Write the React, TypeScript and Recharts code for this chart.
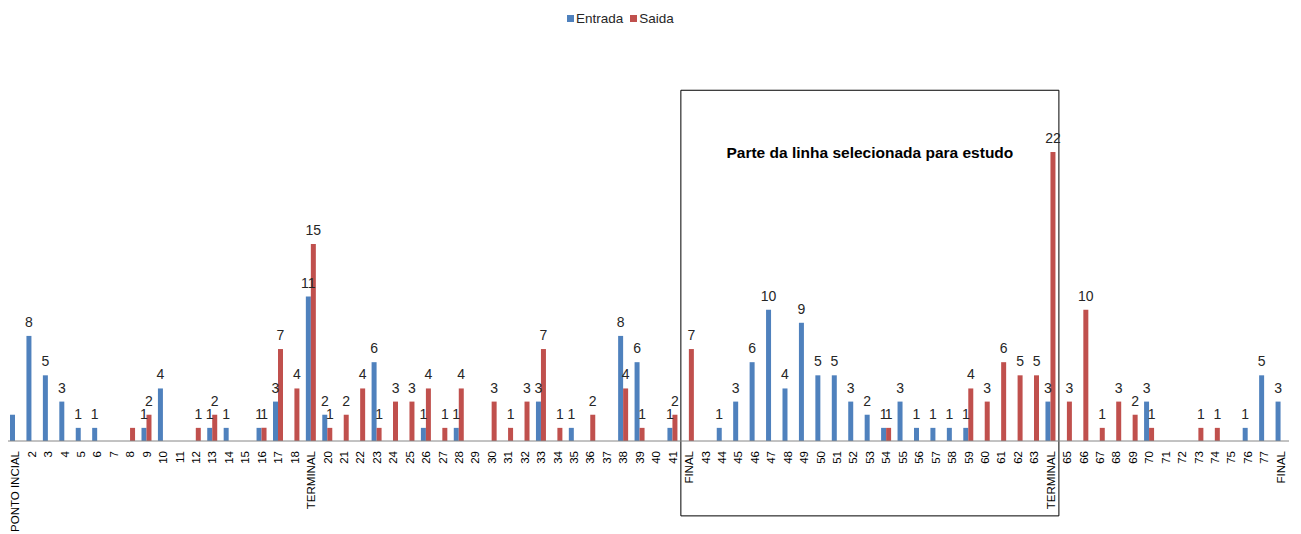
import { BarChart, Bar, XAxis, YAxis, LabelList, ReferenceArea } from 'recharts';

const stops = [
  'PONTO INCIAL', '2', '3', '4', '5', '6', '7', '8', '9', '10', '11', '12', '13', '14', '15', '16', '17', '18',
  'TERMINAL', '20', '21', '22', '23', '24', '25', '26', '27', '28', '29', '30', '31', '32', '33', '34', '35',
  '36', '37', '38', '39', '40', '41', 'FINAL', '43', '44', '45', '46', '47', '48', '49', '50', '51', '52', '53',
  '54', '55', '56', '57', '58', '59', '60', '61', '62', '63', 'TERMINAL', '65', '66', '67', '68', '69', '70',
  '71', '72', '73', '74', '75', '76', '77', 'FINAL',
];

const entrada = [
  2, 8, 5, 3, 1, 1, null, null, 1, 4, null, null, 1, 1, null, 1, 3, null,
  11, 2, null, null, 6, null, null, 1, null, 1, null, null, null, null, 3, null, 1,
  null, null, 8, 6, null, 1, null, null, 1, 3, 6, 10, 4, 9, 5, 5, 3, 2,
  1, 3, 1, 1, 1, 1, null, null, null, null, 3, null, null, null, null, null, 3,
  null, null, null, null, null, 1, 5, 3,
];

const saida = [
  null, null, null, null, null, null, null, 1, 2, null, null, 1, 2, null, null, 1, 7, 4,
  15, 1, 2, 4, 1, 3, 3, 4, 1, 4, null, 3, 1, 3, 7, 1, null,
  2, null, 4, 1, null, 2, 7, null, null, null, null, null, null, null, null, null, null, null,
  1, null, null, null, null, 4, 3, 6, 5, 5, 22, 3, 10, 1, 3, 2, 1,
  null, null, 1, 1, null, null, null, null,
];

const chartData = stops.map((name, i) => ({ id: i, name, entrada: entrada[i], saida: saida[i] }));

const BLUE = '#4F81BD';
const RED = '#C0504D';
const FONT = '"Liberation Sans", Arial, sans-serif';

function StopTick(props: any) {
  const { x, y, payload } = props;
  return (
    <text
      x={x - 2}
      y={y}
      dy="0.35em"
      textAnchor="end"
      fontSize={11.5}
      fontFamily={FONT}
      fill="#000"
      transform={`rotate(-90, ${x}, ${y})`}
    >
      {stops[payload.value]}
    </text>
  );
}

function ValueLabel(props: any) {
  const { x, y, width, value, index } = props;
  // first stop has no label in the original
  if (value == null || index === 0) return null;
  return (
    <text x={x + width / 2} y={y - 9} textAnchor="middle" fontSize={14} fontFamily={FONT} fill="#262626">
      {value}
    </text>
  );
}

export default function App() {
  return (
    <div style={{ position: 'relative', left: -1, width: 1282, height: 526 }}>
      <div
        style={{
          position: 'absolute', top: 3, left: 560, display: 'flex', alignItems: 'center',
          fontFamily: FONT, fontSize: 13.5, color: '#262626',
        }}
      >
        <span style={{ width: 7, height: 7, background: BLUE, marginRight: 2 }} />
        <span style={{ marginRight: 7 }}>Entrada</span>
        <span style={{ width: 7, height: 7, background: RED, marginRight: 2 }} />
        <span>Saida</span>
      </div>
      <BarChart
        width={1282}
        height={526}
        data={chartData}
        margin={{ top: 144, right: 0, bottom: 0, left: 0 }}
        barGap={0}
        barSize={5}
      >
        <XAxis
          dataKey="id"
          type="category"
          interval={0}
          tickLine={false}
          stroke="#868686"
          height={93}
          tick={<StopTick />}
        />
        <YAxis hide domain={[0, 22]} />
        <ReferenceArea
          x1={41}
          x2={63}
          y1={-5.7}
          y2={26.7}
          ifOverflow="visible"
          fill="none"
          stroke="#000"
          strokeWidth={1}
          label={{
            value: 'Parte da linha selecionada para estudo',
            position: 'insideTop',
            offset: 57,
            fontSize: 15.5,
            fontWeight: 'bold',
            fontFamily: FONT,
            fill: '#000',
          }}
        />
        <Bar dataKey="entrada" name="Entrada" fill={BLUE} isAnimationActive={false}>
          <LabelList dataKey="entrada" content={<ValueLabel />} />
        </Bar>
        <Bar dataKey="saida" name="Saida" fill={RED} isAnimationActive={false}>
          <LabelList dataKey="saida" content={<ValueLabel />} />
        </Bar>
      </BarChart>
    </div>
  );
}
